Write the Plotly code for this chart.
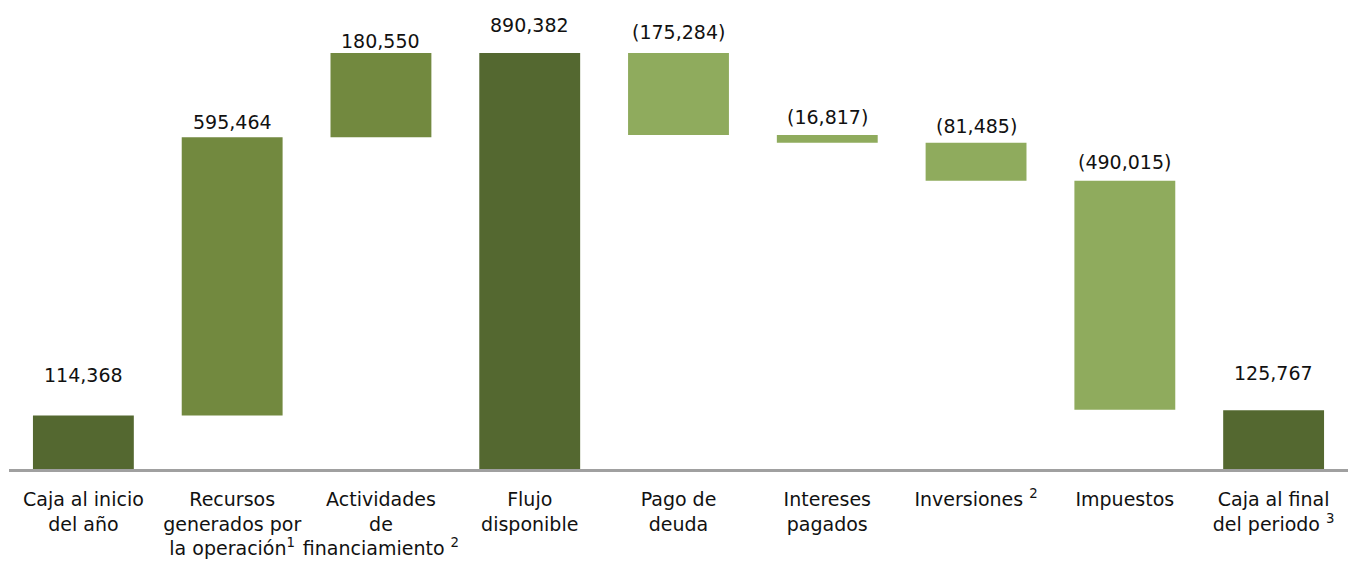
import plotly.graph_objects as go

# Cash-flow bridge (figures in thousands)
categories = [
    "Caja al inicio<br>del año",
    "Recursos<br>generados por<br>la operación<sup>1</sup>",
    "Actividades<br>de<br>financiamiento <sup>2</sup>",
    "Flujo<br>disponible",
    "Pago de<br>deuda",
    "Intereses<br>pagados",
    "Inversiones <sup>2</sup>",
    "Impuestos",
    "Caja al final<br>del periodo <sup>3</sup>",
]
values = [114368, 595464, 180550, 890382, -175284, -16817, -81485, -490015, 125767]
kinds = ["total", "up", "up", "total", "down", "down", "down", "down", "total"]
value_labels = ["114,368", "595,464", "180,550", "890,382", "(175,284)",
                "(16,817)", "(81,485)", "(490,015)", "125,767"]

colors = {"total": "#546830", "up": "#72893F", "down": "#8FAB5D"}
label_lift = [41, 15, 12, 28, 21, 18, 17, 19, 37]  # px above bar top

# Running bases for the floating bars
bases, heights, tops = [], [], []
running = 0
for v, k in zip(values, kinds):
    if k == "total":
        base, h = 0, v
        running = v
    elif k == "up":
        base, h = running, v
        running += v
    else:
        running += v
        base, h = running, -v
    bases.append(base)
    heights.append(h)
    tops.append(base + h)

fig = go.Figure(
    go.Bar(
        x=categories,
        y=heights,
        base=bases,
        marker=dict(color=[colors[k] for k in kinds], line=dict(width=0)),
        hoverinfo="skip",
    )
)

for cat, top, lab, lift in zip(categories, tops, value_labels, label_lift):
    fig.add_annotation(
        x=cat, y=top, text=lab, showarrow=False,
        yanchor="middle", yshift=lift,
        font=dict(family="DejaVu Sans", size=19, color="#111111"),
    )

fig.update_layout(
    width=1348, height=562,
    margin=dict(l=9, r=0, t=0, b=93),
    paper_bgcolor="white", plot_bgcolor="white",
    bargap=0.322,
    showlegend=False,
    font=dict(family="DejaVu Sans", size=19, color="#111111"),
    xaxis=dict(
        showline=True, linecolor="#A0A0A0", linewidth=3,
        ticks="", showgrid=False, tickfont=dict(size=19),
        tickangle=0, ticklabelstandoff=11,
    ),
    yaxis=dict(
        range=[0, 890382 * 469 / 416], visible=False, showgrid=False,
    ),
)

fig.write_html("out.html")
